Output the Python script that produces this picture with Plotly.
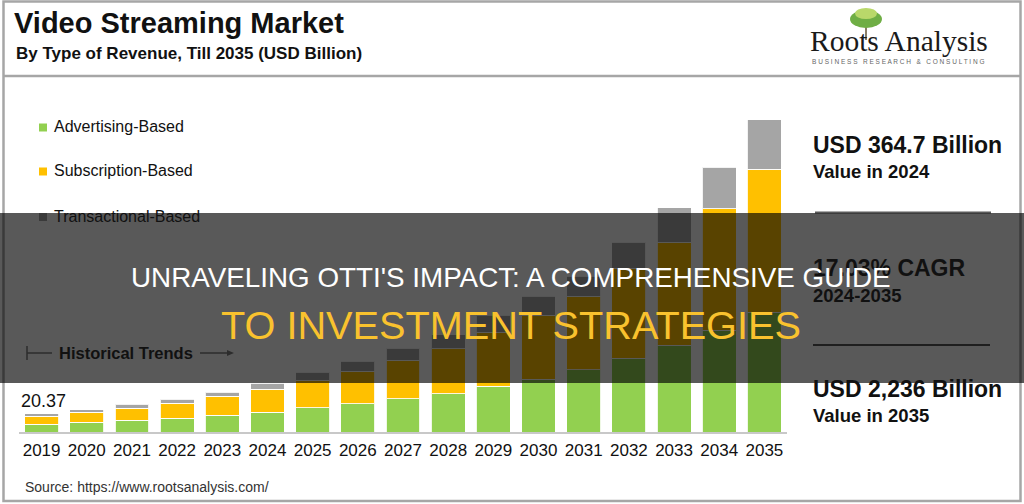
import plotly.graph_objects as go

# ---------------- data (bar heights, relative units) -------------
years = [str(y) for y in range(2019, 2036)]
series_names = ["Advertising-Based", "Subscription-Based", "Transactional-Based"]
series_colors = ["#92D050", "#FFC000", "#A5A5A5"]
advertising = [7.7, 9.7, 11.7, 14.0, 16.7, 20.0, 24.4, 28.4, 33.4, 38.4, 46.0, 52.7, 62.4, 74.0, 86.7, 101.7, 120.0]
subscription = [8.0, 10.0, 12.3, 15.0, 19.0, 23.0, 27.3, 32.6, 38.3, 45.0, 53.6, 64.0, 73.3, 89.7, 103.3, 121.7, 142.7]
transactional = [2.7, 2.7, 3.7, 3.7, 4.3, 6.0, 8.3, 10.0, 12.3, 14.0, 17.3, 19.3, 20.3, 26.3, 34.4, 41.6, 49.7]
first_label = "20.37"
kpi_values = ["USD 364.7 Billion", "17.03% CAGR", "USD 2,236 Billion"]
kpi_notes = ["Value in 2024", "2024-2035", "Value in 2035"]

# ---------------- geometry helpers ----------------
W, H = 1024, 504
L, R, T, B = 19, 237, 100, 72
PW, PH = W - L - R, H - T - B


def px(x):
    return (x - L) / PW


def py(y):
    return (H - B - y) / PH


SANS = "Liberation Sans, Arial, sans-serif"
SERIF = "Liberation Serif, Times New Roman, serif"

fig = go.Figure()
for name, vals, col in zip(series_names, [advertising, subscription, transactional], series_colors):
    fig.add_trace(go.Bar(
        x=years, y=vals, name=name,
        marker=dict(color=col, line=dict(color="rgba(255,255,255,0.85)", width=1)),
        showlegend=False, hoverinfo="skip",
    ))

shapes = []
annotations = []

# outer frame and header divider
shapes.append(dict(type="rect", xref="paper", yref="paper", x0=px(3.5), x1=px(1020.5), y0=py(501), y1=py(1.5),
                   line=dict(color="#A6A6A6", width=2.5), fillcolor="rgba(0,0,0,0)", layer="above"))
shapes.append(dict(type="line", xref="paper", yref="paper", x0=px(3.5), x1=px(1020.5), y0=py(76), y1=py(76),
                   line=dict(color="#A6A6A6", width=2.5), layer="above"))

# header titles
annotations.append(dict(text="<b>Video Streaming Market</b>", x=px(12), y=py(22.5), xref="paper", yref="paper",
                        xanchor="left", yanchor="middle", showarrow=False,
                        font=dict(family=SANS, size=29, color="#111111")))
annotations.append(dict(text="<b>By Type of Revenue, Till 2035 (USD Billion)</b>", x=px(14), y=py(53.7),
                        xref="paper", yref="paper", xanchor="left", yanchor="middle", showarrow=False,
                        font=dict(family=SANS, size=17, color="#111111")))

# logo
shapes.append(dict(type="line", xref="paper", yref="paper", x0=px(866), x1=px(866), y0=py(27), y1=py(40),
                   line=dict(color="#8a7d66", width=2), layer="above"))
shapes.append(dict(type="circle", xref="paper", yref="paper", x0=px(850), x1=px(882), y0=py(28), y1=py(10),
                   fillcolor="#6fae45", line=dict(width=0), layer="above"))
shapes.append(dict(type="circle", xref="paper", yref="paper", x0=px(855), x1=px(877), y0=py(19), y1=py(8),
                   fillcolor="#b9d86a", line=dict(width=0), layer="above"))
annotations.append(dict(text="Roots Analysis", x=px(808), y=py(40.5), xref="paper", yref="paper",
                        xanchor="left", yanchor="middle", showarrow=False,
                        font=dict(family=SERIF, size=29.5, color="#1a1a1a")))
annotations.append(dict(text="B U S I N E S S &nbsp; R E S E A R C H &nbsp; &amp; &nbsp; C O N S U L T I N G",
                        x=px(898), y=py(62), xref="paper", yref="paper",
                        xanchor="center", yanchor="middle", showarrow=False,
                        font=dict(family=SANS, size=6.5, color="#666666")))

# custom legend
for i, (name, col) in enumerate(zip(series_names, series_colors)):
    yc = [127, 171, 216.5][i]
    shapes.append(dict(type="rect", xref="paper", yref="paper", x0=px(39), x1=px(47), y0=py(yc + 4.5), y1=py(yc - 3.5),
                       fillcolor=col, line=dict(width=0), layer="above"))
    annotations.append(dict(text=name, x=px(52), y=py(yc - 0.5), xref="paper", yref="paper",
                            xanchor="left", yanchor="middle", showarrow=False,
                            font=dict(family=SANS, size=16, color="#111111")))

# historical trends marker
shapes.append(dict(type="line", xref="paper", yref="paper", x0=px(27), x1=px(27), y0=py(346), y1=py(360),
                   line=dict(color="#7f7f7f", width=1.5), layer="above"))
shapes.append(dict(type="line", xref="paper", yref="paper", x0=px(27), x1=px(52), y0=py(353), y1=py(353),
                   line=dict(color="#7f7f7f", width=1.5), layer="above"))
shapes.append(dict(type="line", xref="paper", yref="paper", x0=px(200), x1=px(229), y0=py(353), y1=py(353),
                   line=dict(color="#7f7f7f", width=1.5), layer="above"))
shapes.append(dict(type="path", xref="paper", yref="paper",
                   path=f"M {px(234)} {py(353)} L {px(227)} {py(350)} L {px(227)} {py(356)} Z",
                   fillcolor="#7f7f7f", line=dict(width=0), layer="above"))
annotations.append(dict(text="<b>Historical Trends</b>", x=px(57), y=py(353), xref="paper", yref="paper",
                        xanchor="left", yanchor="middle", showarrow=False,
                        font=dict(family=SANS, size=16.5, color="#111111")))

# first bar value label (category axes place annotations by category index)
total_2019 = advertising[0] + subscription[0] + transactional[0]
annotations.append(dict(text=first_label, x=years.index("2019"), y=total_2019, xref="x", yref="y",
                        xanchor="center", yanchor="bottom", xshift=2, yshift=1, showarrow=False,
                        font=dict(family=SANS, size=18, color="#111111")))

# KPI panel
kpi_y = [145.3, 268, 388.7]
note_y = [171.7, 295, 415.5]
for v, n, yv, yn in zip(kpi_values, kpi_notes, kpi_y, note_y):
    annotations.append(dict(text=f"<b>{v}</b>", x=px(811), y=py(yv), xref="paper", yref="paper",
                            xanchor="left", yanchor="middle", showarrow=False,
                            font=dict(family=SANS, size=23, color="#111111")))
    annotations.append(dict(text=f"<b>{n}</b>", x=px(811), y=py(yn), xref="paper", yref="paper",
                            xanchor="left", yanchor="middle", showarrow=False,
                            font=dict(family=SANS, size=18.5, color="#111111")))
for ys, xa, xb in [(212.5, 815, 991), (345, 813, 990)]:
    shapes.append(dict(type="line", xref="paper", yref="paper", x0=px(xa), x1=px(xb), y0=py(ys), y1=py(ys),
                       line=dict(color="#595959", width=2), layer="above"))

# source
annotations.append(dict(text="Source: https://www.rootsanalysis.com/", x=px(23), y=py(487), xref="paper",
                        yref="paper", xanchor="left", yanchor="middle", showarrow=False,
                        font=dict(family=SANS, size=14, color="#333333")))

# dark overlay band with headline
shapes.append(dict(type="rect", xref="paper", yref="paper", x0=px(0), x1=px(1024), y0=py(383), y1=py(213),
                   fillcolor="rgba(0,0,0,0.65)", line=dict(width=0), layer="above"))
annotations.append(dict(text="UNRAVELING OTTI'S IMPACT: A COMPREHENSIVE GUIDE", x=px(511), y=py(277),
                        xref="paper", yref="paper", xanchor="center", yanchor="middle", showarrow=False,
                        font=dict(family=SANS, size=27.8, color="#FFFFFF")))
annotations.append(dict(text="TO INVESTMENT STRATEGIES", x=px(511), y=py(325),
                        xref="paper", yref="paper", xanchor="center", yanchor="middle", showarrow=False,
                        font=dict(family=SANS, size=39.7, color="#F9C22E")))

fig.update_layout(
    width=W, height=H, autosize=False,
    margin=dict(l=L, r=R, t=T, b=B, pad=0, autoexpand=False),
    paper_bgcolor="white", plot_bgcolor="white",
    barmode="stack", bargap=0.25,
    shapes=shapes, annotations=annotations,
    xaxis=dict(type="category", range=[-0.5, len(years) - 0.5], showgrid=False, zeroline=False,
               showline=True, linecolor="#C8C8C8", linewidth=1.5, automargin=False,
               ticks="", ticklabelstandoff=2,
               tickfont=dict(family=SANS, size=17, color="#111111"), fixedrange=True),
    yaxis=dict(visible=False, range=[0, PH], fixedrange=True, automargin=False),
    showlegend=False,
)

fig.write_html("out.html", config={"displayModeBar": False},
               post_script="document.body.style.margin='0';document.body.style.overflow='hidden';")
